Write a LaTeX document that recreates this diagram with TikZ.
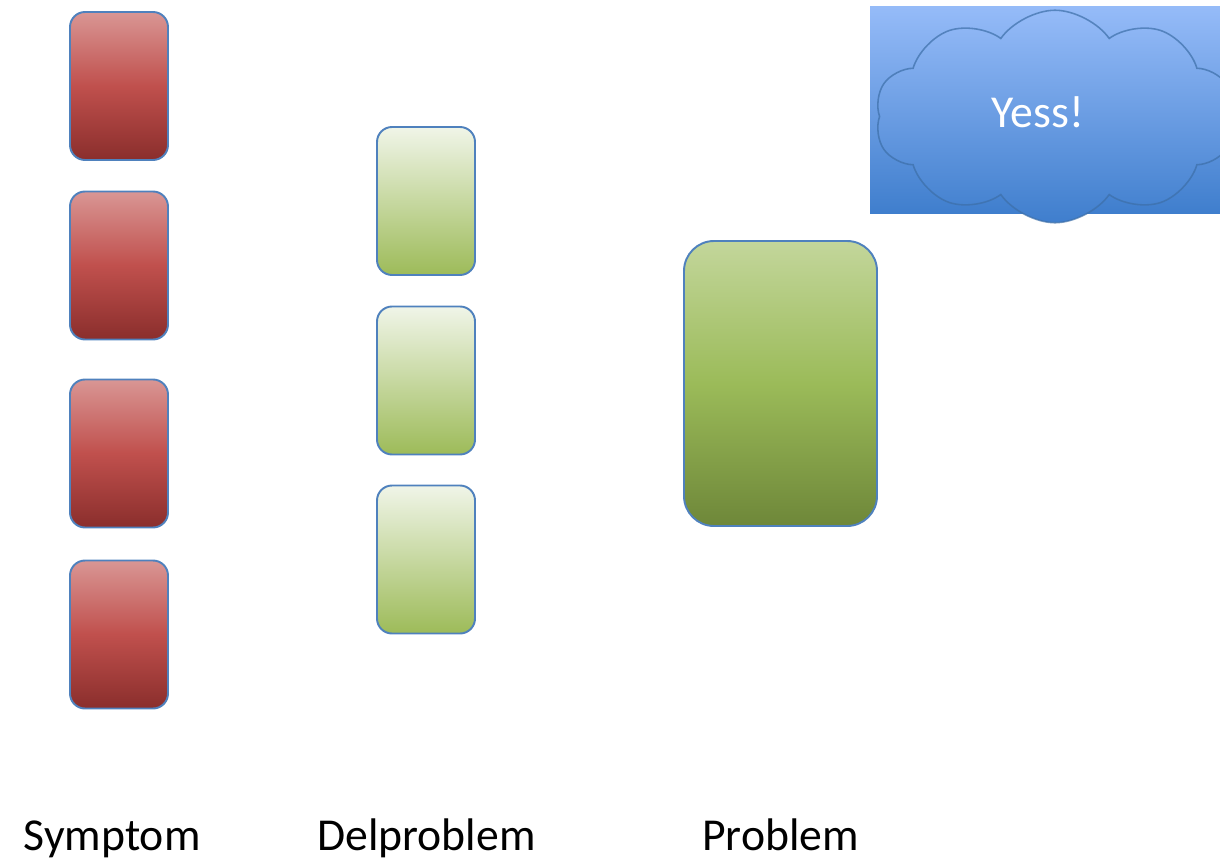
\documentclass[tikz,border=0pt]{standalone}
\usepackage{fontspec}
\setmainfont{Carlito}
\usepackage{tikz}
\usepackage{xcolor}
\usetikzlibrary{shapes.symbols}
\definecolor{edge}{HTML}{4F81BD}
\definecolor{redtop}{HTML}{D99694}
\definecolor{redmid}{HTML}{C0504D}
\definecolor{redbot}{HTML}{8A2E2C}
\definecolor{greentop}{HTML}{F0F5E8}
\definecolor{greenbot}{HTML}{9DBB59}
\definecolor{bigtop}{HTML}{C3D69B}
\definecolor{bigmid}{HTML}{9BBB59}
\definecolor{bigbot}{HTML}{6E8739}
\definecolor{skytop}{HTML}{95BBF8}
\definecolor{skybot}{HTML}{3F7ECD}
\definecolor{cloudline}{HTML}{3D6FA8}
\pgfdeclareverticalshading{redfade}{100bp}{color(0bp)=(redbot); color(25bp)=(redbot);
    color(50bp)=(redmid); color(75bp)=(redtop); color(100bp)=(redtop)}
\pgfdeclareverticalshading{greenfade}{100bp}{color(0bp)=(bigbot); color(25bp)=(bigbot);
    color(50bp)=(bigmid); color(75bp)=(bigtop); color(100bp)=(bigtop)}
\pgfdeclareverticalshading{leaffade}{100bp}{color(0bp)=(greenbot); color(25bp)=(greenbot);
    color(50bp)=(greenbot!50!greentop); color(75bp)=(greentop); color(100bp)=(greentop)}

\begin{document}
\begin{tikzpicture}[
    card/.style={draw=edge, line width=1.1pt, rounded corners=0.3cm,
        minimum width=1.96cm, minimum height=2.96cm},
    symptombox/.style={card, shading=redfade},
    partbox/.style={card, shading=leaffade},
    label/.style={anchor=base west, font=\fontsize{26}{30}\selectfont}
]
            % frame
            \useasboundingbox (0,0) rectangle (24.4,17.28);
            % symptoms
            \foreach \y [count=\i] in {15.56,11.97,8.21,4.59} {
                \node[symptombox] (symptom\i) at (2.38,\y) {};
            }
            % part problems
            \foreach \y [count=\i] in {13.26,9.67,6.09} {
                \node[partbox] (part\i) at (8.52,\y) {};
            }
            % problem
            \node[card, rounded corners=0.6cm, minimum width=3.86cm, minimum height=5.7cm,
                shading=greenfade] (problem) at (15.61,9.61) {};

            % sky behind the cloud
            \begin{scope}
                \clip (0,0) rectangle (24.4,17.28);
                \shade[top color=skytop, bottom color=skybot] (17.4,13.0) rectangle (24.4,17.14);
                \node[cloud, cloud puffs=10, cloud puff arc=110, cloud ignores aspect,
                    minimum width=7.2cm, minimum height=4.25cm, line width=0.9pt,
                    draw=cloudline, draw opacity=0.7,
                    top color=skytop, bottom color=skybot] (cloud) at (21.1,14.95) {};
            \end{scope}
            \node[text=white, font=\fontsize{26}{30}\selectfont] (yess) at (20.76,15.04) {Yess!};

            % column labels
            \node[label] (symptomlabel) at (0.35,0.28) {Symptom};
            \node[label] (partlabel) at (6.22,0.28) {Delproblem};
            \node[label] (problemlabel) at (13.92,0.28) {Problem};
\end{tikzpicture}
\end{document}
